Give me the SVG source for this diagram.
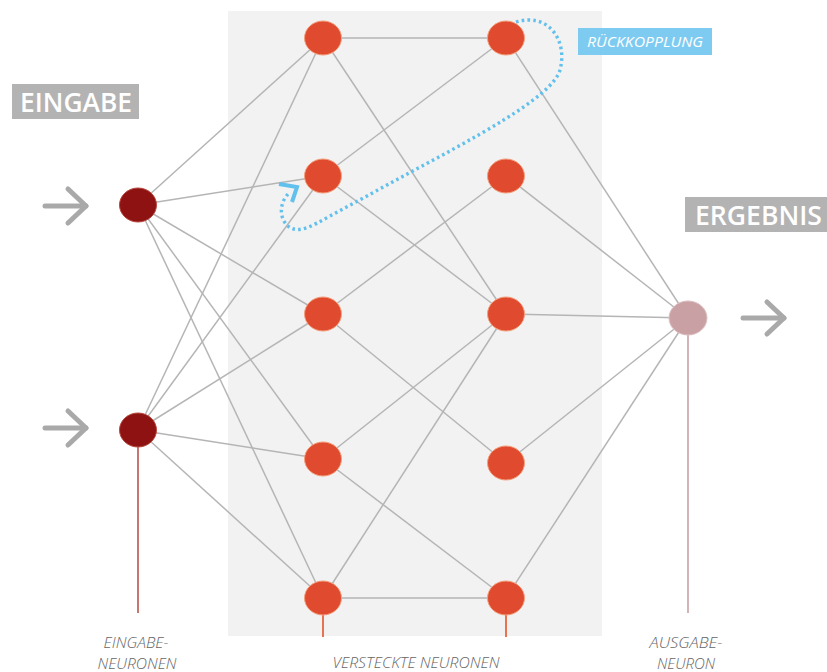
<svg xmlns="http://www.w3.org/2000/svg" width="827" height="672" viewBox="0 0 827 672">
<style>
.edge{stroke:#b5b5b5;stroke-width:1.5;fill:none}
.hid{fill:#e04a2e;stroke:#f4a07e;stroke-width:1}
.inp{fill:#8e1212;stroke:#b84a40;stroke-width:1}
.out{fill:#c9a1a5;stroke:#dcc0c2;stroke-width:1}
.tag{fill:#b3b3b3}
.tagtxt{font-family:"Open Sans","Liberation Sans",sans-serif;font-weight:600;fill:#ffffff}
.small{font-family:"Open Sans","Liberation Sans",sans-serif;font-style:italic;font-weight:300;font-size:14px;fill:#666666;text-anchor:middle}
.arrow{stroke:#a9a9a9;stroke-width:5;fill:none;stroke-linecap:round;stroke-linejoin:round}
</style>
<rect x="228" y="11" width="374" height="625" fill="#f2f2f2"/>
<g id="connectors">
<line class="edge" x1="138" y1="205" x2="323" y2="38"/>
<line class="edge" x1="138" y1="205" x2="323" y2="176"/>
<line class="edge" x1="138" y1="205" x2="323" y2="314"/>
<line class="edge" x1="138" y1="205" x2="323" y2="459"/>
<line class="edge" x1="138" y1="205" x2="323" y2="598"/>
<line class="edge" x1="138" y1="430" x2="323" y2="38"/>
<line class="edge" x1="138" y1="430" x2="323" y2="176"/>
<line class="edge" x1="138" y1="430" x2="323" y2="314"/>
<line class="edge" x1="138" y1="430" x2="323" y2="459"/>
<line class="edge" x1="138" y1="430" x2="323" y2="598"/>
<line class="edge" x1="323" y1="38" x2="506" y2="38"/>
<line class="edge" x1="323" y1="38" x2="506" y2="314"/>
<line class="edge" x1="323" y1="176" x2="506" y2="38"/>
<line class="edge" x1="323" y1="176" x2="506" y2="314"/>
<line class="edge" x1="323" y1="314" x2="506" y2="176"/>
<line class="edge" x1="323" y1="314" x2="506" y2="463"/>
<line class="edge" x1="323" y1="459" x2="506" y2="314"/>
<line class="edge" x1="323" y1="459" x2="506" y2="598"/>
<line class="edge" x1="323" y1="598" x2="506" y2="314"/>
<line class="edge" x1="323" y1="598" x2="506" y2="598"/>
<line class="edge" x1="506" y1="38" x2="688" y2="318"/>
<line class="edge" x1="506" y1="176" x2="688" y2="318"/>
<line class="edge" x1="506" y1="314" x2="688" y2="318"/>
<line class="edge" x1="506" y1="463" x2="688" y2="318"/>
<line class="edge" x1="506" y1="598" x2="688" y2="318"/>
<line x1="138" y1="440" x2="138" y2="613" stroke="#b9554c" stroke-width="1.6"/>
<line x1="688" y1="330" x2="688" y2="613" stroke="#c9a1a5" stroke-width="1.6"/>
<line x1="323" y1="610" x2="323" y2="637" stroke="#e8744f" stroke-width="2"/>
<line x1="506" y1="610" x2="506" y2="637" stroke="#e8744f" stroke-width="2"/>
<path d="M 516 22 C 548 12, 568 40, 560 70 C 552 98, 470 140, 400 178 L 330 216 C 312 226, 296 236, 286 224 C 278 214, 281 200, 290 192" fill="none" stroke="#62c0ed" stroke-width="3.4" stroke-dasharray="2.6 3.2"/>
<polyline points="279,184 297,187 292,202" fill="none" stroke="#62c0ed" stroke-width="4" stroke-linejoin="miter"/>
</g>
<g id="arrow-in1"><polyline class="arrow" points="45,206 86,206"/><polyline class="arrow" points="68,189 86,206 68,223"/></g>
<g id="arrow-in2"><polyline class="arrow" points="45,428 86,428"/><polyline class="arrow" points="68,411 86,428 68,445"/></g>
<g id="arrow-out"><polyline class="arrow" points="743,318 784,318"/><polyline class="arrow" points="767,302 784,318 767,334"/></g>
<g id="in1"><ellipse class="inp" cx="138" cy="205" rx="18.5" ry="17"/></g>
<g id="in2"><ellipse class="inp" cx="138" cy="430" rx="18.5" ry="17"/></g>
<g id="h1a"><ellipse class="hid" cx="323" cy="38" rx="18.5" ry="17"/></g>
<g id="h1b"><ellipse class="hid" cx="323" cy="176" rx="18.5" ry="17"/></g>
<g id="h1c"><ellipse class="hid" cx="323" cy="314" rx="18.5" ry="17"/></g>
<g id="h1d"><ellipse class="hid" cx="323" cy="459" rx="18.5" ry="17"/></g>
<g id="h1e"><ellipse class="hid" cx="323" cy="598" rx="18.5" ry="17"/></g>
<g id="h2a"><ellipse class="hid" cx="506" cy="38" rx="18.5" ry="17"/></g>
<g id="h2b"><ellipse class="hid" cx="506" cy="176" rx="18.5" ry="17"/></g>
<g id="h2c"><ellipse class="hid" cx="506" cy="314" rx="18.5" ry="17"/></g>
<g id="h2d"><ellipse class="hid" cx="506" cy="463" rx="18.5" ry="17"/></g>
<g id="h2e"><ellipse class="hid" cx="506" cy="598" rx="18.5" ry="17"/></g>
<g id="out"><ellipse class="out" cx="688" cy="318" rx="19" ry="17"/></g>
<g id="label-eingabe"><rect class="tag" x="12" y="84" width="127" height="35"/><text class="tagtxt" x="20" y="112" font-size="27" textLength="112" lengthAdjust="spacingAndGlyphs">EINGABE</text></g>
<g id="label-ergebnis"><rect class="tag" x="685" y="197" width="142" height="35"/><text class="tagtxt" x="695" y="225" font-size="27" textLength="127" lengthAdjust="spacingAndGlyphs">ERGEBNIS</text></g>
<g id="label-rueck"><rect x="578" y="28" width="134" height="27" fill="#7ecbf1"/><text x="587" y="47" font-family="'Open Sans','Liberation Sans',sans-serif" font-style="italic" font-size="14" fill="#ffffff" textLength="116" lengthAdjust="spacingAndGlyphs">RÜCKKOPPLUNG</text></g>
<g id="label-eingabeneuronen"><text class="small" x="136" y="648" textLength="65" lengthAdjust="spacingAndGlyphs">EINGABE-</text><text class="small" x="137" y="669" textLength="79" lengthAdjust="spacingAndGlyphs">NEURONEN</text></g>
<g id="label-versteckt"><text class="small" x="416" y="668" textLength="167" lengthAdjust="spacingAndGlyphs">VERSTECKTE NEURONEN</text></g>
<g id="label-ausgabe"><text class="small" x="686" y="648" textLength="73" lengthAdjust="spacingAndGlyphs">AUSGABE-</text><text class="small" x="686" y="669" textLength="58" lengthAdjust="spacingAndGlyphs">NEURON</text></g>
</svg>
